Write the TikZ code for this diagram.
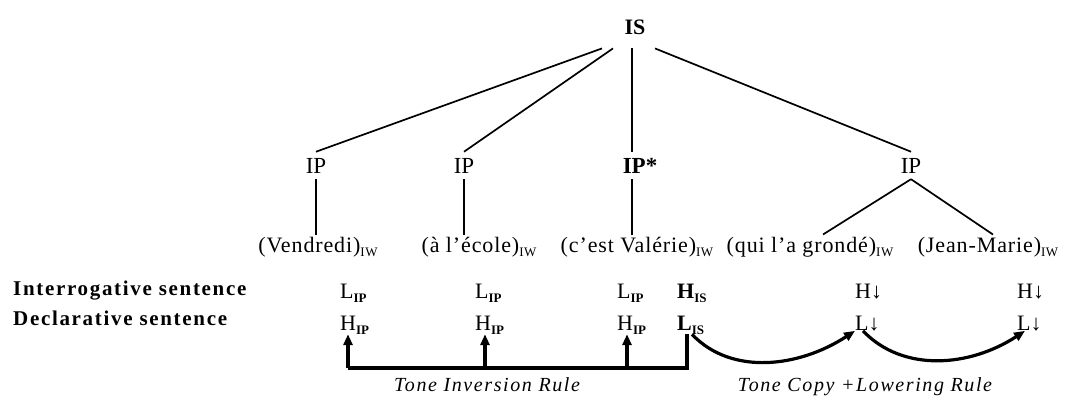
\documentclass[tikz,border=0pt]{standalone}
\usepackage{fontspec}
\setmainfont{Liberation Serif}
\newfontfamily\widefont{Liberation Serif}[LetterSpace=4]
\newfontfamily\widerfont{Liberation Serif}[LetterSpace=8]
\usetikzlibrary{positioning,arrows.meta,calc}
\newcommand{\subtag}[1]{\raisebox{-4pt}{\fontsize{13}{13}\selectfont #1}}

\begin{document}
\begin{tikzpicture}[
  x=1pt,y=-1pt,
  ph/.style={anchor=base,inner xsep=0pt,inner ysep=6pt,font=\fontsize{23}{26}\selectfont},
  wd/.style={anchor=base,inner xsep=0pt,inner ysep=2pt,font=\widefont\fontsize{22}{24}\selectfont},
  side/.style={anchor=base west,inner sep=0pt,font=\widerfont\bfseries\fontsize{21}{24}\selectfont},
  tn/.style={anchor=base west,inner sep=0pt,font=\fontsize{22}{24}\selectfont},
  rl/.style={anchor=base,inner sep=0pt,font=\widerfont\itshape\fontsize{20}{22}\selectfont},
  br/.style={line width=1.7pt},
  bar/.style={line width=3.2pt},
  >={Triangle[length=11pt,width=9pt]}
]
\useasboundingbox (0,0) rectangle (1082,396);
% prosodic tree
\node[ph,inner ysep=13pt,font=\bfseries\fontsize{22}{26}\selectfont] (is) at (635,35) {IS};
\node[ph] (ip1) at (316,173) {IP};
\node[ph] (ip2) at (464,173) {IP};
\node[ph,font=\bfseries\fontsize{23}{26}\selectfont] (ip3) at (640,173) {IP*};
\node[ph] (ip4) at (911,173) {IP};
\coordinate (isv) at ([xshift=-3pt]is.south);
\draw[br] ([xshift=-33pt]is.south) -- (ip1.north);
\draw[br] ([xshift=-22pt]is.south) -- (ip2.north);
\draw[br] (isv) -- (isv |- ip3.north);
\draw[br] ([xshift=20pt]is.south) -- (ip4.north);
% words
\node[wd] (w1) at (318,252) {(Vendredi)\subtag{IW}};
\node[wd] (w2) at (479,252) {(à l’école)\subtag{IW}};
\node[wd] (w3) at (637,252) {(c’est Valérie)\subtag{IW}};
\node[wd] (w4) at (810,252) {(qui l’a grondé)\subtag{IW}};
\node[wd] (w5) at (988,252) {(Jean-Marie)\subtag{IW}};
\coordinate (ipv) at ([xshift=-8pt]ip3.south);
\draw[br] (ip1.south) -- (ip1.south |- w1.north);
\draw[br] (ip2.south) -- (ip2.south |- w2.north);
\draw[br] (ipv) -- (ipv |- w3.north);
\draw[br] (ip4.south) -- ([xshift=13pt]w4.north);
\draw[br] (ip4.south) -- ([xshift=5pt]w5.north);
% tones
\node[side] (int) at (13,295) {Interrogative sentence};
\node[side] (dec) at (13,325) {Declarative sentence};
\node[tn] (l1) at (340,298) {L\subtag{\bfseries IP}};
\node[tn] (l2) at (475,298) {L\subtag{\bfseries IP}};
\node[tn] (l3) at (617,298) {L\subtag{\bfseries IP}};
\node[tn,font=\bfseries\fontsize{22}{24}\selectfont] (his) at (677,298) {H\subtag{IS}};
\node[tn] (h5) at (855,298) {H↓};
\node[tn] (h6) at (1017,298) {H↓};
\node[tn] (h1) at (340,330) {H\subtag{\bfseries IP}};
\node[tn] (h2) at (475,330) {H\subtag{\bfseries IP}};
\node[tn] (h3) at (617,330) {H\subtag{\bfseries IP}};
\node[tn,font=\bfseries\fontsize{22}{24}\selectfont] (lis) at (677,330) {L\subtag{IS}};
\node[tn] (l5) at (855,330) {L↓};
\node[tn] (l6) at (1017,330) {L↓};
% tone inversion
\coordinate (lvl) at (0,368);
\coordinate (t1) at ([xshift=8pt]h1.south west);
\coordinate (t2) at ([xshift=10pt]h2.south west);
\coordinate (t3) at ([xshift=10pt]h3.south west);
\coordinate (t4) at ([xshift=10pt]lis.south west);
\draw[bar] (t4) -- (t4 |- lvl) -- (t1 |- lvl);
\foreach \t in {t1,t2,t3} \draw[bar,->] (\t |- lvl) -- (\t);
\node[rl] (inv) at (487,391) {Tone Inversion Rule};
% tone copy and lowering
\draw[bar,->] ([xshift=15pt]lis.south west) .. controls +(40,42) and +(-55,36) .. (l5.south west);
\draw[bar,->] ([xshift=8pt]l5.south west) .. controls +(40,42) and +(-55,36) .. ([xshift=8pt]l6.south west);
\node[rl] (cpy) at (865,391) {Tone Copy +Lowering Rule};
\end{tikzpicture}
\end{document}
